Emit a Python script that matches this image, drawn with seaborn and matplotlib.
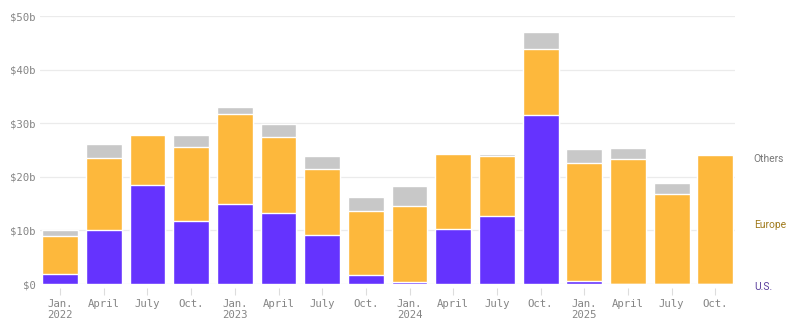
import numpy as np
import pandas as pd
import matplotlib
matplotlib.use("Agg")
import matplotlib.pyplot as plt
import matplotlib.transforms as mtransforms
import seaborn as sns

# Quarterly investment, billions of dollars
quarters = ["2022-Q1", "2022-Q2", "2022-Q3", "2022-Q4",
            "2023-Q1", "2023-Q2", "2023-Q3", "2023-Q4",
            "2024-Q1", "2024-Q2", "2024-Q3", "2024-Q4",
            "2025-Q1", "2025-Q2", "2025-Q3", "2025-Q4"]
tick_labels = ["Jan.\n2022", "April", "July", "Oct.",
               "Jan.\n2023", "April", "July", "Oct.",
               "Jan.\n2024", "April", "July", "Oct.",
               "Jan.\n2025", "April", "July", "Oct."]
us = [1.8, 10.0, 18.5, 11.7, 15.0, 13.2, 9.1, 1.6,
      0.3, 10.2, 12.6, 31.6, 0.6, 0.0, 0.0, 0.0]
europe = [7.2, 13.6, 9.3, 13.9, 16.8, 14.2, 12.4, 12.0,
          14.2, 14.0, 11.2, 12.2, 22.0, 23.3, 16.7, 24.1]
others = [1.1, 2.5, 0.1, 2.2, 1.2, 2.4, 2.3, 2.6,
          3.7, 0.1, 0.5, 3.2, 2.5, 2.1, 2.2, 0.2]
y_ticks = [0, 10, 20, 30, 40, 50]
y_tick_labels = ["$0", "$10b", "$20b", "$30b", "$40b", "$50b"]

df = pd.DataFrame({"quarter": quarters, "us": us, "europe": europe, "others": others})
df["top_us"] = df["us"]
df["top_europe"] = df["us"] + df["europe"]
df["top_others"] = df["top_europe"] + df["others"]

C_US = "#6533fe"
C_EU = "#fdb83c"
C_OT = "#c8c8c8"

sns.set_style("white")
plt.rcParams["font.family"] = ["DejaVu Sans Mono", "DejaVu Sans"]

fig = plt.figure(figsize=(8.0, 3.29), dpi=100)
ax = fig.add_axes([0.05, 1 - 284 / 329, 0.86875, (284 - 16) / 329])

# Stacked bars drawn as overlapping cumulative totals, tallest first
for col, color in [("top_others", C_OT), ("top_europe", C_EU), ("top_us", C_US)]:
    sns.barplot(data=df, x="quarter", y=col, order=quarters, color=color,
                width=0.82, edgecolor="white", linewidth=1.0,
                saturation=1, ax=ax, zorder=3)

ax.set_xlim(-0.46, 15.45)
ax.set_ylim(0, 50)
ax.set_xlabel("")
ax.set_ylabel("")

ax.set_yticks(y_ticks)
ax.set_yticklabels(y_tick_labels)
ax.set_xticks(range(len(quarters)))
ax.set_xticklabels(tick_labels)

ax.set_axisbelow(True)
ax.yaxis.grid(True, color="#ebebeb", linewidth=0.9)
ax.xaxis.grid(False)
for s in ax.spines.values():
    s.set_visible(False)
ax.spines["bottom"].set_position(("outward", 3))

ax.tick_params(axis="y", length=0, pad=3, labelsize=7.7, labelcolor="#858585")
ax.tick_params(axis="x", length=5, width=0.8, color="#dddddd", direction="out",
               pad=2.5, labelsize=7.7, labelcolor="#858585", bottom=True)
for lbl in ax.get_xticklabels():
    lbl.set_linespacing(1.2)

# Series labels to the right of the bars
trans = mtransforms.blended_transform_factory(ax.transAxes, ax.transData)
legend_items = [("Others", 23.3, "#777777"),
                ("Europe", 11.0, "#a07a1c"),
                ("U.S.", -0.5, "#5a3f9c")]
for name, yv, color in legend_items:
    ax.text(1.027, yv, name, transform=trans, ha="left", va="center",
            fontsize=7.4, color=color, family=["Roboto", "DejaVu Sans"],
            clip_on=False)

fig.savefig("out.png", dpi=100, facecolor="white")
